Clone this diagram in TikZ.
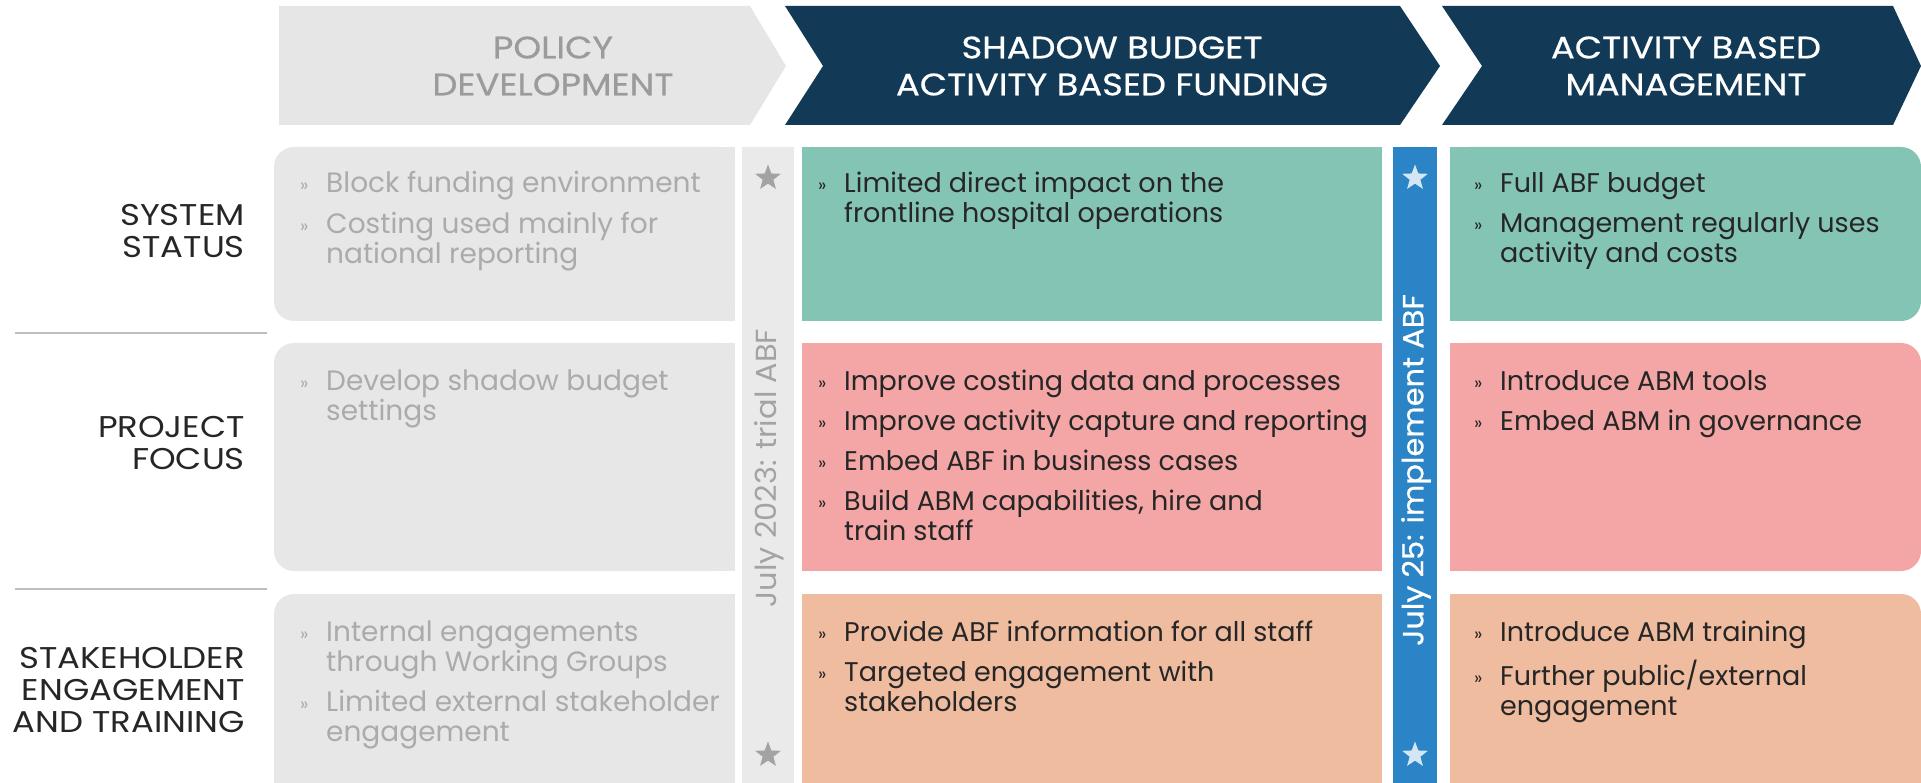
\documentclass[tikz,border=0pt]{standalone}
\usepackage{fontspec}
\setmainfont{Poppins}
\newfontfamily\hdrfont{Poppins}[FakeStretch=1.14, FakeBold=0.6]
\newfontfamily\lblfont{Poppins}[FakeStretch=1.13]
\newfontfamily\barfont{Poppins}[FakeStretch=1.05]
\newfontfamily\barbfont{Poppins}[FakeStretch=1.05, FakeBold=0.6]
\usetikzlibrary{shapes.geometric}
\definecolor{navy}{HTML}{123A56}
\definecolor{hdrgrey}{HTML}{E6E6E6}
\definecolor{hdrtxt}{HTML}{9B9B9B}
\definecolor{boxgrey}{HTML}{E7E7E7}
\definecolor{greytxt}{HTML}{ABABAB}
\definecolor{bargrey}{HTML}{EAEAEA}
\definecolor{bartxt}{HTML}{A3A3A3}
\definecolor{teal}{HTML}{84C4B5}
\definecolor{pink}{HTML}{F4A6A6}
\definecolor{peach}{HTML}{F0BCA0}
\definecolor{blue}{HTML}{2A84C6}
\definecolor{lightstar}{HTML}{D4E6F4}
\definecolor{dark}{HTML}{262626}
\definecolor{sepline}{HTML}{BDBDBD}
\newcommand{\itm}[1]{\makebox[26pt][l]{\raisebox{1pt}{\fontsize{18}{18}\selectfont »}}#1}
\newcommand{\cnt}[1]{\hspace*{26pt}#1}
\newcommand{\blist}[1]{\begin{tabular}[t]{@{}l@{}}#1\end{tabular}}
\tikzset{
  hdrtext/.style={align=center, font=\hdrfont\fontsize{31}{37}\selectfont, inner sep=0},
  lbltext/.style={align=right, anchor=east, font=\lblfont\fontsize{30}{32}\selectfont, text=dark, inner sep=0},
  bodytext/.style={anchor=base west, font=\fontsize{27}{30}\selectfont, inner sep=0, text=dark},
  greytext/.style={anchor=base west, font=\fontsize{28}{30}\selectfont, inner sep=0, text=greytxt},
  bartext/.style={rotate=90, font=\barfont\fontsize{29}{30}\selectfont, inner sep=0},
  starmark/.style={star, star points=5, star point ratio=2.4, minimum size=27pt, inner sep=0},
  sep/.style={draw=sepline, line width=2pt}
}
\begin{document}
\begin{tikzpicture}[x=1pt,y=-1pt]
\useasboundingbox (0,0) rectangle (1921,783);
% header arrows
\fill[hdrgrey] (279,6) -- (750,6) -- (786,66) -- (750,125) -- (279,125) -- cycle;
\fill[navy] (785,6) -- (1400,6) -- (1440,66) -- (1400,125) -- (785,125) -- (823,66) -- cycle;
\fill[navy] (1442,6) -- (1893,6) -- (1921,66) -- (1893,125) -- (1442,125) -- (1482,66) -- cycle;
\node[hdrtext, text=hdrtxt] (h1) at (553,66) {POLICY\\DEVELOPMENT};
\node[hdrtext, text=white] (h2) at (1112,66) {SHADOW BUDGET\\ACTIVITY BASED FUNDING};
\node[hdrtext, text=white] (h3) at (1686,66) {ACTIVITY BASED\\MANAGEMENT};
% row labels and separators
\node[lbltext] (l1) at (245,231) {SYSTEM\\STATUS};
\node[lbltext] (l2) at (245,443) {PROJECT\\FOCUS};
\node[lbltext] (l3) at (245,690) {STAKEHOLDER\\ENGAGEMENT\\AND TRAINING};
\draw[sep] (15,333) -- (267,333);
\draw[sep] (15,589) -- (267,589);
% column 1 (grey, rounded left)
\foreach \a/\b in {147/321, 343/571, 594/800}{
  \fill[boxgrey, rounded corners=20pt] (274,\a) rectangle (735,\b);
  \fill[boxgrey] (400,\a) rectangle (735,\b);
}
% column 2
\fill[teal] (802,147) rectangle (1382,321);
\fill[pink] (802,343) rectangle (1382,571);
\fill[peach] (802,594) rectangle (1382,783);
% column 3 (rounded right)
\fill[teal, rounded corners=20pt] (1450,147) rectangle (1921,321);
\fill[teal] (1450,147) rectangle (1800,321);
\fill[pink, rounded corners=20pt] (1450,343) rectangle (1921,571);
\fill[pink] (1450,343) rectangle (1800,571);
\fill[peach, rounded corners=20pt] (1450,594) rectangle (1921,800);
\fill[peach] (1450,594) rectangle (1800,800);
% bars
\fill[bargrey] (742,147) rectangle (794,783);
\fill[blue] (1393,147) rectangle (1437,783);
\node[bartext, text=bartxt] (b1) at (769,468) {July 2023: trial ABF};
\node[bartext, text=white, font=\barbfont\fontsize{29}{30}\selectfont] (b2) at (1416,470) {July 25: implement ABF};
\node[starmark, fill=bartxt] (s1) at (768,178) {};
\node[starmark, fill=bartxt] (s2) at (768,755) {};
\node[starmark, fill=lightstar] (s3) at (1415,178) {};
\node[starmark, fill=lightstar] (s4) at (1415,755) {};
% column 1 text
\node[greytext] (c11) at (300,193) {\blist{\itm{Block funding environment}\\[10pt]\itm{Costing used mainly for}\\\cnt{national reporting}}};
\node[greytext] (c12) at (300,390) {\blist{\itm{Develop shadow budget}\\\cnt{settings}}};
\node[greytext] (c13) at (300,641) {\blist{\itm{Internal engagements}\\\cnt{through Working Groups}\\[10pt]\itm{Limited external stakeholder}\\\cnt{engagement}}};
% column 2 text
\node[bodytext] (c21) at (818,193) {\blist{\itm{Limited direct impact on the}\\\cnt{frontline hospital operations}}};
\node[bodytext] (c22) at (818,390) {\blist{\itm{Improve costing data and processes}\\[10pt]\itm{Improve activity capture and reporting}\\[10pt]\itm{Embed ABF in business cases}\\[10pt]\itm{Build ABM capabilities, hire and}\\\cnt{train staff}}};
\node[bodytext] (c23) at (818,641) {\blist{\itm{Provide ABF information for all staff}\\[10pt]\itm{Targeted engagement with}\\\cnt{stakeholders}}};
% column 3 text
\node[bodytext] (c31) at (1474,193) {\blist{\itm{Full ABF budget}\\[10pt]\itm{Management regularly uses}\\\cnt{activity and costs}}};
\node[bodytext] (c32) at (1474,390) {\blist{\itm{Introduce ABM tools}\\[10pt]\itm{Embed ABM in governance}}};
\node[bodytext] (c33) at (1474,641) {\blist{\itm{Introduce ABM training}\\[10pt]\itm{Further public/external}\\\cnt{engagement}}};
\end{tikzpicture}
\end{document}
